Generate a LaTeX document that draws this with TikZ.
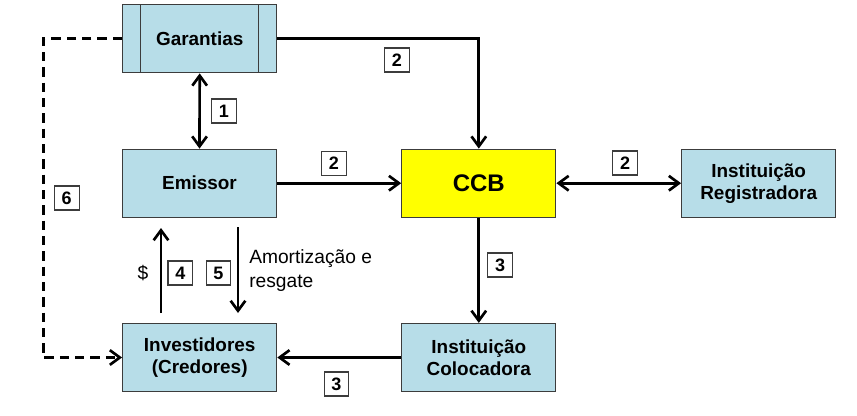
\documentclass[tikz,border=0pt]{standalone}
\usepackage{fontspec}
\setmainfont{Liberation Sans}
\usetikzlibrary{arrows.meta}
\definecolor{boxblue}{RGB}{183,221,232}
\definecolor{boxyel}{RGB}{255,255,0}
\definecolor{edgegray}{RGB}{60,60,60}
\tikzset{
  bigbox/.style={draw=edgegray, line width=0.9pt, fill=boxblue, minimum width=115.5pt, minimum height=51pt, inner sep=0pt, align=center, font=\fontsize{14.2}{16.5}\selectfont\bfseries},
  numbox/.style={draw=edgegray, line width=0.8pt, fill=white, minimum width=18.5pt, minimum height=18pt, inner sep=0pt, font=\fontsize{13.5}{14}\selectfont\bfseries},
  tip/.style={},
  arr/.style={line width=2pt, -{Straight Barb[length=7.5pt,width=11pt,line width=2pt]}},
  darr/.style={line width=2pt, {Straight Barb[length=7.5pt,width=11pt,line width=2pt]}-{Straight Barb[length=7.5pt,width=11pt,line width=2pt]}},
  dasharr/.style={arr, dash pattern=on 7pt off 4.5pt}
}
\begin{document}
\begin{tikzpicture}[x=0.75pt,y=-0.75pt]
\useasboundingbox (0,0) rectangle (857,415);
% boxes
\node[bigbox] (gar) at (199.7,38.8) {Garantias};
\draw[edgegray, line width=0.9pt] ([xshift=13.9pt]gar.north west) -- ([xshift=13.9pt]gar.south west)
  ([xshift=-13.9pt]gar.north east) -- ([xshift=-13.9pt]gar.south east);
\node[bigbox] (emi) at (199.5,183.2) {Emissor};
\node[bigbox, fill=boxyel, font=\fontsize{18}{20}\selectfont\bfseries] (ccb) at (478.8,183.2) {CCB};
\node[bigbox] (reg) at (758.7,183.2) {Instituição\\Registradora};
\node[bigbox] (inv) at (199.7,357.5) {Investidores\\(Credores)};
\node[bigbox] (col) at (478.8,357.5) {Instituição\\Colocadora};
% coordinates
\coordinate (a4s) at (161,313);
\coordinate (a4e) at (161,228);
\coordinate (a5s) at (238,227);
\coordinate (a5e) at (238,313);
\coordinate (dcorner) at (43.3,38.8);
% connectors
\draw[arr] (gar.east) -| (ccb.north);
\draw[darr] (gar.south) -- (emi.north);
\draw[arr] (emi.east) -- (ccb.west);
\draw[darr] (ccb.east) -- (reg.west);
\draw[arr] (ccb.south) -- (col.north);
\draw[arr] (col.west) -- (inv.east);
\draw[arr] (a4s) -- (a4e);
\draw[arr] (a5s) -- (a5e);
\draw[dasharr] (gar.west) -- (dcorner) |- (inv.west);
% labels
\node[numbox] (n1) at (224,111) {1};
\node[numbox] (n2a) at (397,60) {2};
\node[numbox] (n2b) at (334,163.5) {2};
\node[numbox] (n2c) at (625,163) {2};
\node[numbox] (n3a) at (500,265) {3};
\node[numbox] (n3b) at (336.5,384) {3};
\node[numbox] (n4) at (180.3,273) {4};
\node[numbox] (n5) at (218.5,273) {5};
\node[numbox] (n6) at (66.7,198) {6};
\node[font=\fontsize{14.4}{16}\selectfont] (dol) at (143,273) {\$};
\node[anchor=west, align=left, inner sep=0pt, font=\fontsize{14.4}{18.5}\selectfont] (amort) at (249,270.5) {Amortização e\\resgate};
\end{tikzpicture}
\end{document}
